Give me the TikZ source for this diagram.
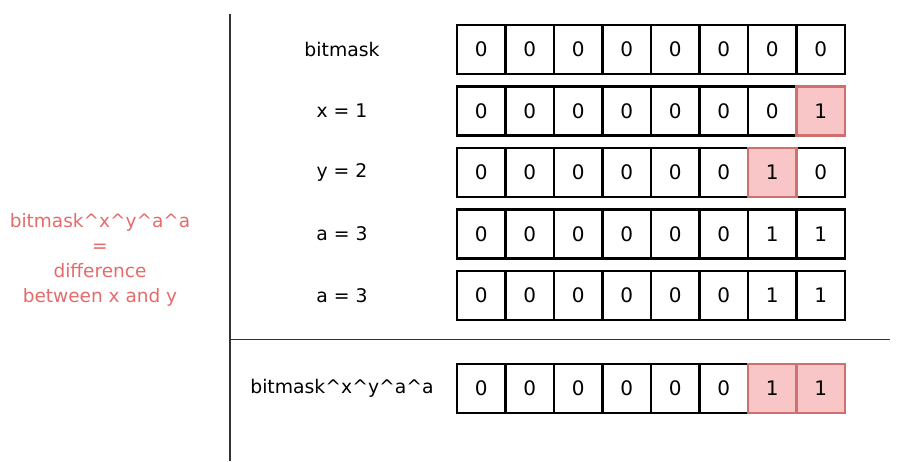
\documentclass[tikz,border=0pt]{standalone}
\usepackage{fontspec}
\setmainfont{DejaVu Sans}
\definecolor{redtxt}{HTML}{E56B6B}
\definecolor{pinkfill}{HTML}{F8C6C6}
\definecolor{pinkline}{HTML}{CF6F6F}
\begin{document}
\begin{tikzpicture}[x=1pt,y=-1pt,
  cell/.style={minimum width=48.5pt, minimum height=49pt, inner sep=0pt, outer sep=0pt, font=\fontsize{20}{22}\selectfont},
  edge/.style={line width=2.3pt},
  lab/.style={font=\fontsize{18.8}{22}\selectfont},
  rule/.style={line width=1.5pt, draw=black!80}]
\useasboundingbox (0,0) rectangle (903,461);
\foreach \row/\ty/\labtxt/\vals in {
  1/25/{bitmask}/{0,0,0,0,0,0,0,0},
  2/86.5/{x = 1}/{0,0,0,0,0,0,0,2},
  3/148/{y = 2}/{0,0,0,0,0,0,2,0},
  4/209.5/{a = 3}/{0,0,0,0,0,0,1,1},
  5/271/{a = 3}/{0,0,0,0,0,0,1,1},
  6/364/{bitmask\textasciicircum x\textasciicircum y\textasciicircum a\textasciicircum a}/{0,0,0,0,0,0,2,2}} {
  \node[lab] (l\row) at (342, \ty+24.5) {\labtxt};
  \foreach \v [count=\c] in \vals {
    \ifnum\v=2 \def\fc{pinkfill}\def\d{1}\else\def\fc{white}\edef\d{\v}\fi
    \node[cell, fill=\fc] (r\row c\c) at ({457+48.5*(\c-0.5)}, \ty+24.5) {\d};
  }
  \foreach \v [count=\c] in \vals {
    \ifnum\v=2 \else
      \draw[edge, black] (r\row c\c.south west) rectangle (r\row c\c.north east);
    \fi
  }
  \foreach \v [count=\c] in \vals {
    \ifnum\v=2
      \draw[edge, pinkline] (r\row c\c.south west) rectangle (r\row c\c.north east);
    \fi
  }
}
\coordinate (vt) at (230,13.5);
\coordinate (vb) at (230,461);
\coordinate (hl) at (231,339.3);
\coordinate (hr) at (890,339.3);
\draw[rule] (vt) -- (vb);
\draw[rule] (hl) -- (hr);
\node[align=center, text=redtxt, font=\fontsize{18.5}{25}\selectfont] (note) at (100,259.5)
  {bitmask\textasciicircum x\textasciicircum y\textasciicircum a\textasciicircum a\\=\\difference\\between x and y};
\end{tikzpicture}
\end{document}
